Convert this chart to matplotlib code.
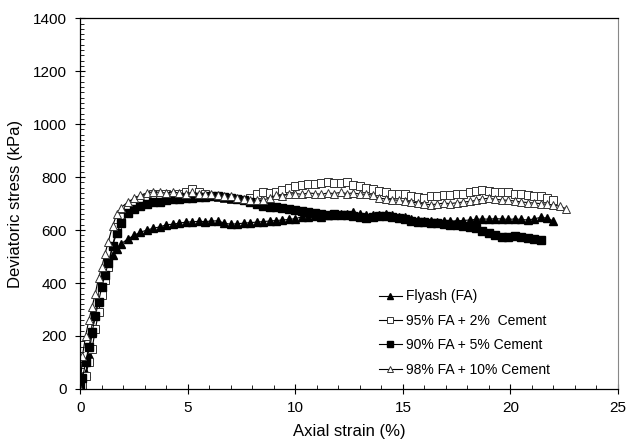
import matplotlib
matplotlib.use("Agg")
import matplotlib.pyplot as plt
from matplotlib.ticker import MultipleLocator

plt.rcParams["font.family"] = ["Liberation Sans", "DejaVu Sans"]

# strain readings (%) shared by all four tests
strain = [0, 0.1, 0.25, 0.4, 0.55, 0.7, 0.85, 1.0, 1.15, 1.3, 1.5, 1.7, 1.9,
          2.2, 2.5, 2.8, 3.1, 3.4, 3.7, 4.0, 4.3, 4.6, 4.9, 5.2, 5.5, 5.8,
          6.1, 6.4, 6.7, 7.0, 7.3, 7.6, 7.9, 8.2, 8.5, 8.8, 9.1, 9.4, 9.7,
          10.0, 10.3, 10.6, 10.9, 11.2, 11.5, 11.8, 12.1, 12.4, 12.7, 13.0,
          13.3, 13.6, 13.9, 14.2, 14.5, 14.8, 15.1, 15.4, 15.7, 16.0, 16.3,
          16.6, 16.9, 17.2, 17.5, 17.8, 18.1, 18.4, 18.7, 19.0, 19.3, 19.6,
          19.9, 20.2, 20.5, 20.8, 21.1, 21.4, 21.7, 22.0, 22.3, 22.6]

# deviatoric stress (kPa)
flyash = [0, 20, 60, 130, 210, 290, 350, 400, 440, 470, 505, 530, 548,
          566, 580, 592, 600, 607, 612, 620, 622, 626, 630, 631, 633, 632,
          634, 635, 626, 622, 624, 626, 628, 630, 632, 634, 636, 638, 640,
          643, 650, 648, 652, 650, 655, 656, 660, 662, 668, 662,
          656, 655, 658, 660, 655, 650, 648, 642, 638, 636, 634,
          632, 634, 633, 635, 636, 638, 640, 642, 641, 643, 642,
          640, 642, 640, 638, 642, 648, 645, 634]

fa_2_cement = [0, 15, 50, 100, 150, 225, 290, 355, 410, 460, 540, 610, 650,
               680, 700, 712, 722, 735, 738, 736, 734, 738, 742, 756, 745, 735,
               730, 726, 720, 718, 716, 715, 722, 735, 742, 740, 745, 750, 760,
               768, 772, 775, 773, 778, 780, 776, 778, 780, 770, 765,
               758, 756, 748, 742, 738, 738, 736, 730, 726, 720, 728,
               730, 732, 732, 735, 738, 742, 748, 752, 748, 745, 742,
               745, 738, 735, 732, 730, 728, 722, 712]

fa_5_cement = [10, 40, 100, 160, 215, 275, 330, 385, 430, 475, 540, 590, 625,
               665, 680, 692, 700, 706, 705, 712, 716, 718, 720, 722, 724, 725,
               727, 728, 724, 720, 718, 712, 705, 698, 692, 688, 686, 684, 680,
               676, 672, 668, 664, 660, 658, 660, 657, 655, 652, 648,
               646, 650, 654, 652, 648, 646, 642, 636, 632, 630, 628,
               625, 622, 620, 618, 615, 612, 608, 595, 588, 580, 572,
               575, 578, 574, 570, 566, 562]

fa_10_cement = [0, 125, 200, 260, 310, 360, 420, 460, 510, 555, 615, 660, 685,
                705, 720, 732, 740, 745, 742, 740, 744, 740, 738, 742, 738, 735,
                736, 733, 730, 728, 722, 718, 715, 712, 714, 720, 732, 730, 735,
                738, 735, 740, 738, 735, 740, 738, 742, 738, 740, 736,
                735, 732, 720, 718, 715, 712, 708, 706, 702, 698, 696,
                698, 702, 700, 703, 706, 708, 712, 718, 720, 716, 714,
                712, 710, 706, 704, 702, 700, 697, 694, 690, 680]

labels = ["Flyash (FA)", "95% FA + 2%  Cement", "90% FA + 5% Cement",
          "98% FA + 10% Cement"]

fig = plt.figure(figsize=(6.27, 4.44), dpi=100)
ax = fig.add_axes([0.128, 0.124, 0.8576, 0.835])

lw = 0.8
ax.plot(strain[:len(flyash)], flyash, color="black", linewidth=lw,
        marker="^", markersize=5.5, markerfacecolor="black",
        markeredgecolor="black", label=labels[0])
ax.plot(strain[:len(fa_2_cement)], fa_2_cement, color="black", linewidth=lw,
        marker="s", markersize=5.5, markerfacecolor="white",
        markeredgecolor="#333333", markeredgewidth=0.7, label=labels[1])
ax.plot(strain[:len(fa_5_cement)], fa_5_cement, color="black", linewidth=lw,
        marker="s", markersize=5.5, markerfacecolor="black",
        markeredgecolor="black", label=labels[2])
ax.plot(strain[:len(fa_10_cement)], fa_10_cement, color="black", linewidth=lw,
        marker="^", markersize=5.5, markerfacecolor="white",
        markeredgecolor="#333333", markeredgewidth=0.7, label=labels[3])

ax.set_xlim(0, 25)
ax.set_ylim(0, 1400)
ax.xaxis.set_major_locator(MultipleLocator(5))
ax.xaxis.set_minor_locator(MultipleLocator(1))
ax.yaxis.set_major_locator(MultipleLocator(200))
ax.yaxis.set_minor_locator(MultipleLocator(20))
ax.tick_params(which="major", direction="inout", length=7, width=0.8,
               labelsize=11, colors="black")
ax.tick_params(which="minor", direction="in", length=3, width=0.6)
ax.tick_params(axis="x", pad=5)
ax.tick_params(axis="y", pad=6)
ax.spines["right"].set_color("#888888")
for s in ["left", "bottom", "top"]:
    ax.spines[s].set_linewidth(0.9)

ax.set_xlabel("Axial strain (%)", fontsize=12, labelpad=7)
ax.set_ylabel("Deviatoric stress (kPa)", fontsize=12, labelpad=7)

ax.legend(loc="lower left", bbox_to_anchor=(0.555, 0.033), frameon=False,
          fontsize=10, handlelength=1.65, handletextpad=0.3,
          labelspacing=0.75, borderpad=0, borderaxespad=0, markerscale=0.75)

fig.savefig("out.png", dpi=100)
